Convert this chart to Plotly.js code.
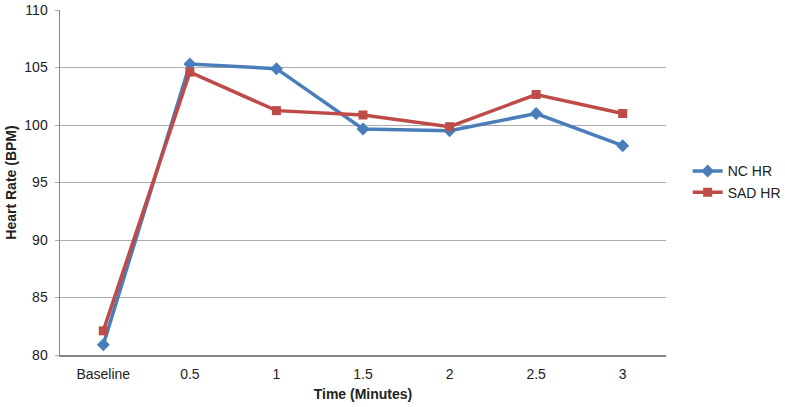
<!DOCTYPE html>
<html>
<head>
<meta charset="utf-8">
<script src="https://cdn.plot.ly/plotly-3.0.1.min.js"></script>
<style>html,body{margin:0;padding:0;background:#fff;}#chart{width:785px;height:407px;}</style>
</head>
<body>
<div id="chart"></div>
<script>
const categories = ["Baseline", "0.5", "1", "1.5", "2", "2.5", "3"];
const ncHR = [80.9, 105.3, 104.9, 99.65, 99.5, 101.0, 98.2];
const sadHR = [82.1, 104.6, 101.25, 100.87, 99.85, 102.65, 101.0];
const yTicks = [80, 85, 90, 95, 100, 105, 110];

const traces = [
  {x: categories, y: ncHR, name: "NC HR", type: "scatter", mode: "lines+markers",
   line: {color: "#4a7ebb", width: 3.5}, marker: {symbol: "diamond", size: 10, color: "#4a7ebb"}},
  {x: categories, y: sadHR, name: "SAD HR", type: "scatter", mode: "lines+markers",
   line: {color: "#be4b48", width: 3.5}, marker: {symbol: "square", size: 9, color: "#be4b48"}}
];

const layout = {
  width: 785, height: 407,
  margin: {l: 60, r: 119, t: 10, b: 52},
  paper_bgcolor: "#fff", plot_bgcolor: "#fff",
  font: {family: "Liberation Sans, Arial, sans-serif", size: 14, color: "#222"},
  showlegend: true,
  legend: {xref: "container", yref: "container", x: 0.876, xanchor: "left", y: 0.553, yanchor: "middle",
           font: {size: 14, color: "#222"}, bgcolor: "rgba(0,0,0,0)", borderwidth: 0},
  xaxis: {type: "category", categoryorder: "array", categoryarray: categories,
          showgrid: false, showline: true, linecolor: "#868686", linewidth: 1.5,
          ticks: "", tickfont: {size: 14, color: "#222"}, ticklabelstandoff: 6,
          title: {text: "<b>Time (Minutes)</b>", font: {size: 14, color: "#222"}, standoff: 8},
          zeroline: false, range: [-0.5, 6.5]},
  yaxis: {range: [80, 110], tickvals: yTicks, showgrid: true, gridcolor: "#acacac", gridwidth: 1,
          showline: true, linecolor: "#868686", linewidth: 1.5, ticks: "outside", ticklen: 4,
          tickcolor: "#acacac", tickfont: {size: 14, color: "#222"}, zeroline: false, ticklabelstandoff: 4,
          title: {text: "<b>Heart Rate (BPM)</b>", font: {size: 14, color: "#222"}, standoff: 4}}
};

Plotly.newPlot("chart", traces, layout, {displayModeBar: false, staticPlot: true});
</script>
</body>
</html>
